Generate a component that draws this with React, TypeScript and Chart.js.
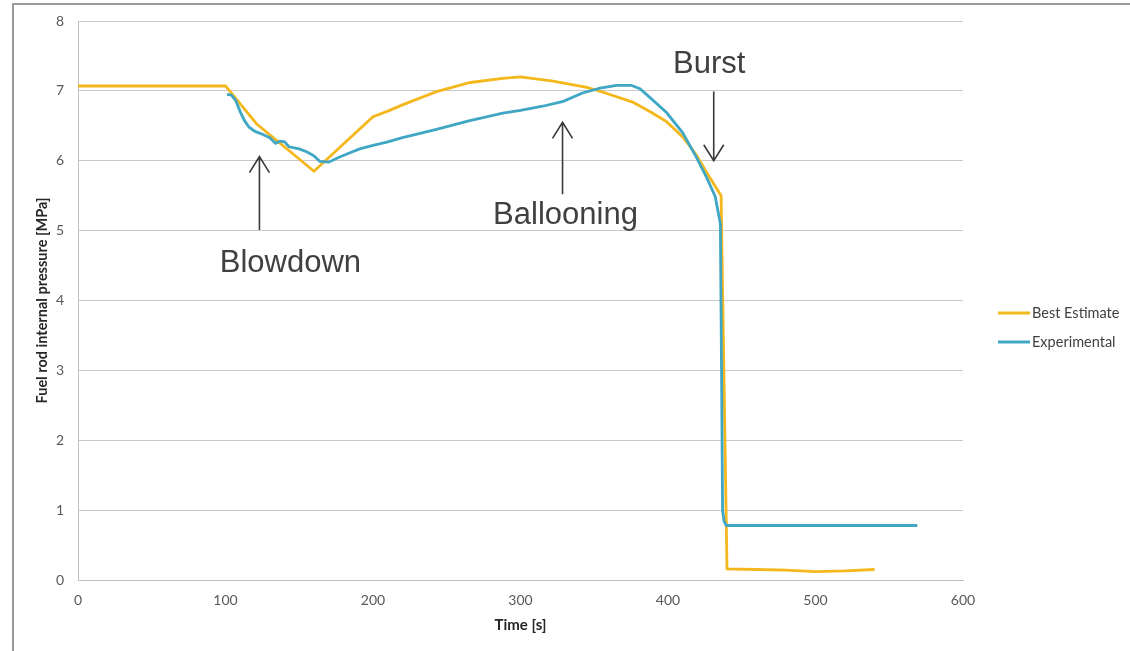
import React, { useEffect, useRef } from 'react';
import { Chart, registerables } from 'chart.js';

Chart.register(...registerables);

// Best Estimate series (time [s], pressure [MPa])
const bestEstimateTime = [0, 100, 121, 160, 200, 210, 220, 243, 266, 288, 300, 322, 345, 356, 376, 388, 399, 410, 419, 426, 436, 440, 460, 480, 500, 520, 540];
const bestEstimatePressure = [7.07, 7.07, 6.53, 5.85, 6.63, 6.71, 6.8, 6.99, 7.12, 7.18, 7.2, 7.14, 7.05, 6.98, 6.84, 6.7, 6.56, 6.34, 6.09, 5.84, 5.5, 0.16, 0.15, 0.14, 0.12, 0.13, 0.15];

// Experimental series
const experimentalTime = [101, 104, 107, 110, 113, 116, 120, 125, 130, 134, 137, 140, 143, 150, 155, 160, 164, 170, 177, 184, 191, 198, 210, 220, 243, 265, 288, 300, 315, 329, 342, 354, 365, 375, 381, 388, 399, 410, 419, 426, 432, 435.5, 436.3, 437, 438, 439.5, 569];
const experimentalPressure = [6.95, 6.94, 6.86, 6.7, 6.57, 6.48, 6.42, 6.38, 6.33, 6.25, 6.28, 6.27, 6.2, 6.17, 6.13, 6.07, 5.99, 5.98, 6.05, 6.11, 6.17, 6.21, 6.27, 6.33, 6.45, 6.57, 6.68, 6.72, 6.78, 6.85, 6.97, 7.04, 7.08, 7.08, 7.03, 6.9, 6.69, 6.4, 6.06, 5.77, 5.49, 5.1, 3.0, 1.0, 0.84, 0.78, 0.78];

const seriesNames = ['Best Estimate', 'Experimental'];
const seriesColors = ['#F5B81C', '#3FA6C4'];

// Annotations (data coordinates)
const annotationLabels = ['Blowdown', 'Ballooning', 'Burst'];
const annotationTextTime = [144, 330.5, 428];
const annotationTextPressure = [4.41, 5.09, 7.26];
const arrowTime = [123, 328.5, 431];
const arrowFromPressure = [5.01, 5.52, 6.99];
const arrowToPressure = [6.06, 6.55, 6.0];

const xTicks = [0, 100, 200, 300, 400, 500, 600];
const yTicks = [0, 1, 2, 3, 4, 5, 6, 7, 8];

const toPoints = (xs: number[], ys: number[]) => xs.map((x, i) => ({ x, y: ys[i] }));

const annotationPlugin = {
  id: 'arrowsAndLabels',
  afterDatasetsDraw(chart: any) {
    const { ctx, scales } = chart;
    const sx = scales.x;
    const sy = scales.y;
    ctx.save();
    ctx.strokeStyle = '#3a3a3a';
    ctx.lineWidth = 1.6;
    for (let i = 0; i < annotationLabels.length; i++) {
      const x = sx.getPixelForValue(arrowTime[i]);
      const y0 = sy.getPixelForValue(arrowFromPressure[i]);
      const y1 = sy.getPixelForValue(arrowToPressure[i]);
      const dir = y1 < y0 ? -1 : 1;
      ctx.beginPath();
      ctx.moveTo(x, y0);
      ctx.lineTo(x, y1);
      ctx.moveTo(x - 10, y1 - dir * 16);
      ctx.lineTo(x, y1);
      ctx.lineTo(x + 10, y1 - dir * 16);
      ctx.stroke();
      ctx.fillStyle = '#404040';
      ctx.font = '31px "Liberation Sans", Arial, sans-serif';
      ctx.textAlign = 'center';
      ctx.textBaseline = 'alphabetic';
      ctx.fillText(annotationLabels[i], sx.getPixelForValue(annotationTextTime[i]), sy.getPixelForValue(annotationTextPressure[i]));
    }
    ctx.restore();
  },
  afterDraw(chart: any) {
    const { ctx, chartArea } = chart;
    ctx.save();
    const lx = chartArea.right + 35;
    for (let i = 0; i < seriesNames.length; i++) {
      const ly = chartArea.top + 292 + i * 29;
      ctx.strokeStyle = seriesColors[i];
      ctx.lineWidth = 3;
      ctx.beginPath();
      ctx.moveTo(lx, ly);
      ctx.lineTo(lx + 32, ly);
      ctx.stroke();
      ctx.fillStyle = '#404040';
      ctx.font = '14.5px Lato, sans-serif';
      ctx.textAlign = 'left';
      ctx.textBaseline = 'middle';
      ctx.fillText(seriesNames[i], lx + 34, ly);
    }
    ctx.restore();
  },
};

export default function App() {
  const ref = useRef<HTMLCanvasElement>(null);
  useEffect(() => {
    const canvas = ref.current;
    if (!canvas) return;
    const chart = new Chart(canvas, {
      type: 'scatter',
      data: {
        datasets: [
          {
            label: seriesNames[0],
            data: toPoints(bestEstimateTime, bestEstimatePressure),
            showLine: true,
            borderColor: seriesColors[0],
            backgroundColor: seriesColors[0],
            borderWidth: 2.8,
            pointRadius: 0,
            tension: 0,
            order: 1,
          },
          {
            label: seriesNames[1],
            data: toPoints(experimentalTime, experimentalPressure),
            showLine: true,
            borderColor: seriesColors[1],
            backgroundColor: seriesColors[1],
            borderWidth: 2.8,
            pointRadius: 0,
            tension: 0,
            order: 0,
          },
        ],
      },
      options: {
        responsive: false,
        animation: false,
        layout: { padding: { left: 0, top: 21, right: 167, bottom: 0 } },
        plugins: {
          legend: { display: false },
          tooltip: { enabled: false },
        },
        scales: {
          x: {
            type: 'linear',
            min: 0,
            max: 600,
            afterBuildTicks: (scale: any) => {
              scale.ticks = xTicks.map((v) => ({ value: v }));
            },
            afterFit: (scale: any) => {
              scale.height = 71;
            },
            grid: { display: false, drawTicks: false },
            border: { display: true, color: '#bfbfbf', width: 1 },
            ticks: {
              padding: 12,
              color: '#595959',
              font: { family: 'Lato, sans-serif', size: 14 },
            },
            title: {
              display: true,
              text: 'Time [s]',
              color: '#262626',
              font: { family: 'Lato, sans-serif', size: 15, weight: 'bold' },
              padding: { top: 0, bottom: 17 },
            },
          },
          y: {
            type: 'linear',
            min: 0,
            max: 8,
            afterBuildTicks: (scale: any) => {
              scale.ticks = yTicks.map((v) => ({ value: v }));
            },
            afterFit: (scale: any) => {
              scale.width = 78;
              scale.paddingTop = 0;
              scale.paddingBottom = 0;
            },
            grid: { color: '#c8c8c8', lineWidth: 1, drawTicks: false },
            border: { display: true, color: '#bfbfbf', width: 1 },
            ticks: {
              padding: 14,
              color: '#595959',
              font: { family: 'Lato, sans-serif', size: 14 },
            },
            title: {
              display: true,
              text: 'Fuel rod internal pressure [MPa]',
              color: '#262626',
              font: { family: 'Lato, sans-serif', size: 14.5, weight: 'bold' },
              padding: { top: 34, bottom: 0 },
            },
          },
        },
      },
      plugins: [annotationPlugin],
    } as any);
    return () => chart.destroy();
  }, []);

  return (
    <div style={{ position: 'fixed', left: 0, top: 0, width: 1130, height: 651, background: '#ffffff', overflow: 'hidden' }}>
      <div
        style={{
          position: 'absolute',
          left: 12,
          top: 3,
          width: 1200,
          height: 700,
          borderTop: '2px solid #9a9a9a',
          borderLeft: '2px solid #9a9a9a',
        }}
      />
      <canvas ref={ref} width={1130} height={651} style={{ position: 'absolute', left: 0, top: 0 }} />
    </div>
  );
}
